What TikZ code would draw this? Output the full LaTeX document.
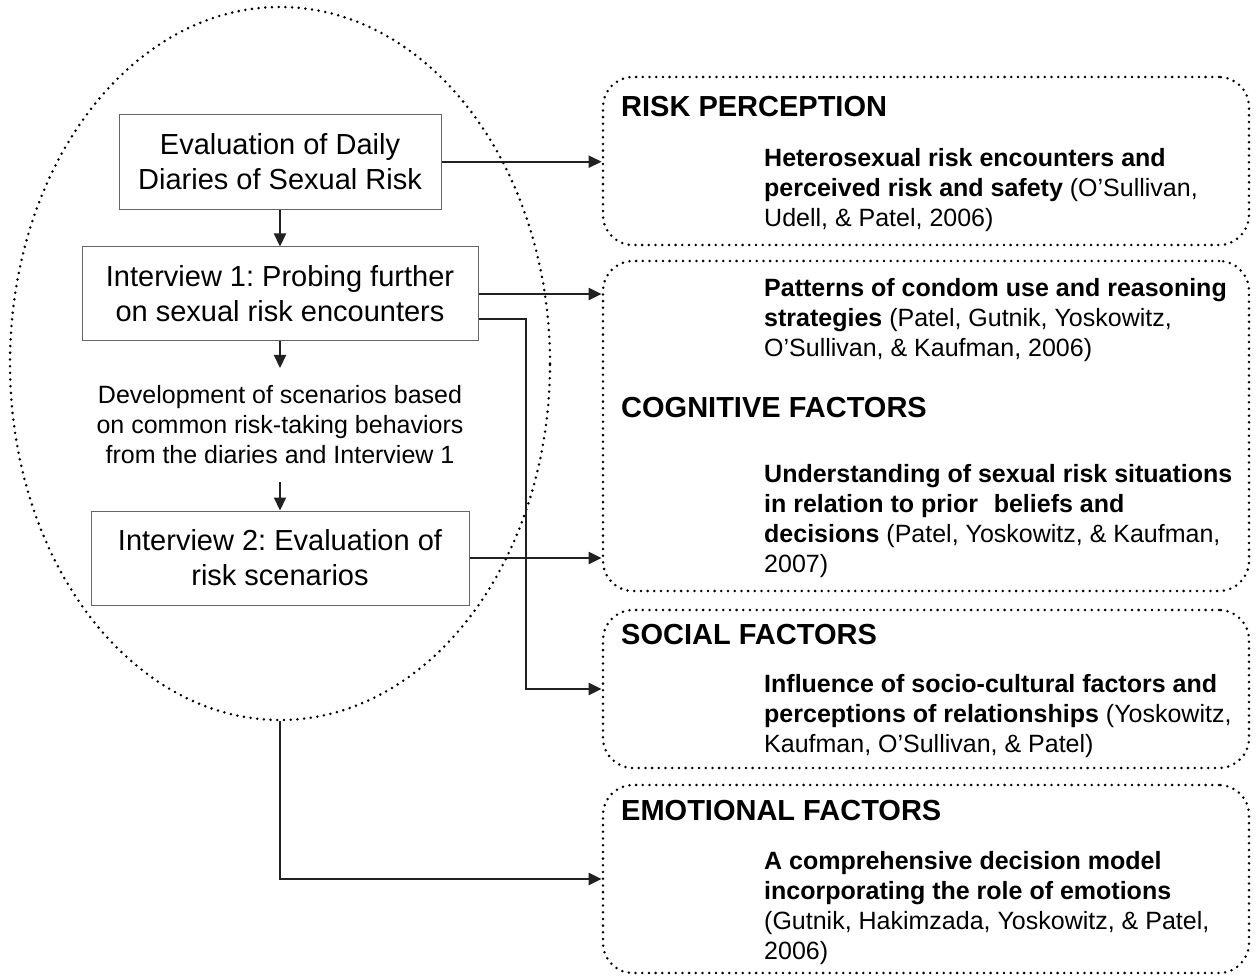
\documentclass[tikz,border=0pt]{standalone}
\usepackage{fontspec}
\setmainfont{Liberation Sans}
\usetikzlibrary{shapes.geometric,arrows.meta}
\tikzset{
  conn/.style={draw=black!87, line width=2.2pt, -{Triangle[length=13pt,width=12pt]}},
  flowbox/.style={draw=black!60, line width=1pt, fill=white, inner sep=0pt, align=center,
    font=\fontsize{29}{35}\selectfont},
  devtext/.style={inner sep=0pt, align=center, font=\fontsize{25}{30}\selectfont},
  dots/.style={draw=black, line width=2.8pt, line cap=round, dash pattern=on 0pt off 6.7pt},
  groupbox/.style={dots, rounded corners=30pt, inner sep=0pt},
  grouptitle/.style={anchor=west, inner sep=0pt, font=\fontsize{29}{35}\selectfont\bfseries},
  groupbody/.style={anchor=north west, inner sep=0pt, align=left, font=\fontsize{25}{30}\selectfont}
}
\begin{document}
\frenchspacing
\begin{tikzpicture}[x=1pt,y=-1pt]
\useasboundingbox (0,0) rectangle (1256,976);
% big dotted ellipse
\node[ellipse, dots, minimum width=540pt, minimum height=713pt, inner sep=0pt] (ell) at (280,363.5) {};
% left flow
\node[flowbox, minimum width=322pt, minimum height=95pt] (b1) at (280,161.7) {Evaluation of Daily\\Diaries of Sexual Risk};
\node[flowbox, minimum width=396pt, minimum height=94pt] (b2) at (280,294) {Interview 1: Probing further\\on sexual risk encounters};
\node[devtext] (dev) at (280,425) {Development of scenarios based\\on common risk-taking behaviors\\from the diaries and Interview 1};
\node[flowbox, minimum width=378pt, minimum height=94pt] (b3) at (280,558) {Interview 2: Evaluation of\\risk scenarios};
\coordinate (devtop) at (280,368);
\coordinate (devbot) at (280,482);
\draw[conn] (b1.south) -- (b2.north);
\draw[conn] (b2.south) -- (devtop);
\draw[conn] (devbot) -- (b3.north);
% right group boxes
\node[groupbox, minimum width=646pt, minimum height=168pt] (r1) at (926,161) {};
\node[groupbox, minimum width=646pt, minimum height=330pt] (r2) at (926,426) {};
\node[groupbox, minimum width=646pt, minimum height=158pt] (r3) at (926,689) {};
\node[groupbox, minimum width=646pt, minimum height=188pt] (r4) at (926,879) {};
% titles
\node[grouptitle] (t1) at (621,107) {RISK PERCEPTION};
\node[grouptitle] (t2) at (621,408) {COGNITIVE FACTORS};
\node[grouptitle] (t3) at (621,635) {SOCIAL FACTORS};
\node[grouptitle] (t4) at (621,811) {EMOTIONAL FACTORS};
% bodies
\node[groupbody] (p1) at (764,147.7) {\textbf{Heterosexual risk encounters and}\\\textbf{perceived risk and safety} (O’Sullivan,\\Udell, \& Patel, 2006)};
\node[groupbody] (p2) at (764,277.7) {\textbf{Patterns of condom use and reasoning}\\\textbf{strategies} (Patel, Gutnik, Yoskowitz,\\O’Sullivan, \& Kaufman, 2006)};
\node[groupbody] (p3) at (764,463.7) {\textbf{Understanding of sexual risk situations}\\\textbf{in relation to prior\hspace{0.35em} beliefs and}\\\textbf{decisions} (Patel, Yoskowitz, \& Kaufman,\\2007)};
\node[groupbody] (p4) at (764,673.7) {\textbf{Influence of socio-cultural factors and}\\\textbf{perceptions of relationships} (Yoskowitz,\\Kaufman, O’Sullivan, \& Patel)};
\node[groupbody] (p5) at (764,850.7) {\textbf{A comprehensive decision model}\\\textbf{incorporating the role of emotions}\\(Gutnik, Hakimzada, Yoskowitz, \& Patel,\\2006)};
% connectors to the right
\coordinate (kx) at (526,0);
\draw[conn] (b1.east) -- (b1.east -| r1.west);
\draw[conn] (b2.east) -- (b2.east -| r2.west);
\draw[conn] (b3.east) -- (b3.east -| r2.west);
\draw[conn] ([yshift=-25pt]b2.east) -| (r3.west -| kx) -- (r3.west);
\draw[conn] (ell.south) |- (r4.west);
\end{tikzpicture}
\end{document}
